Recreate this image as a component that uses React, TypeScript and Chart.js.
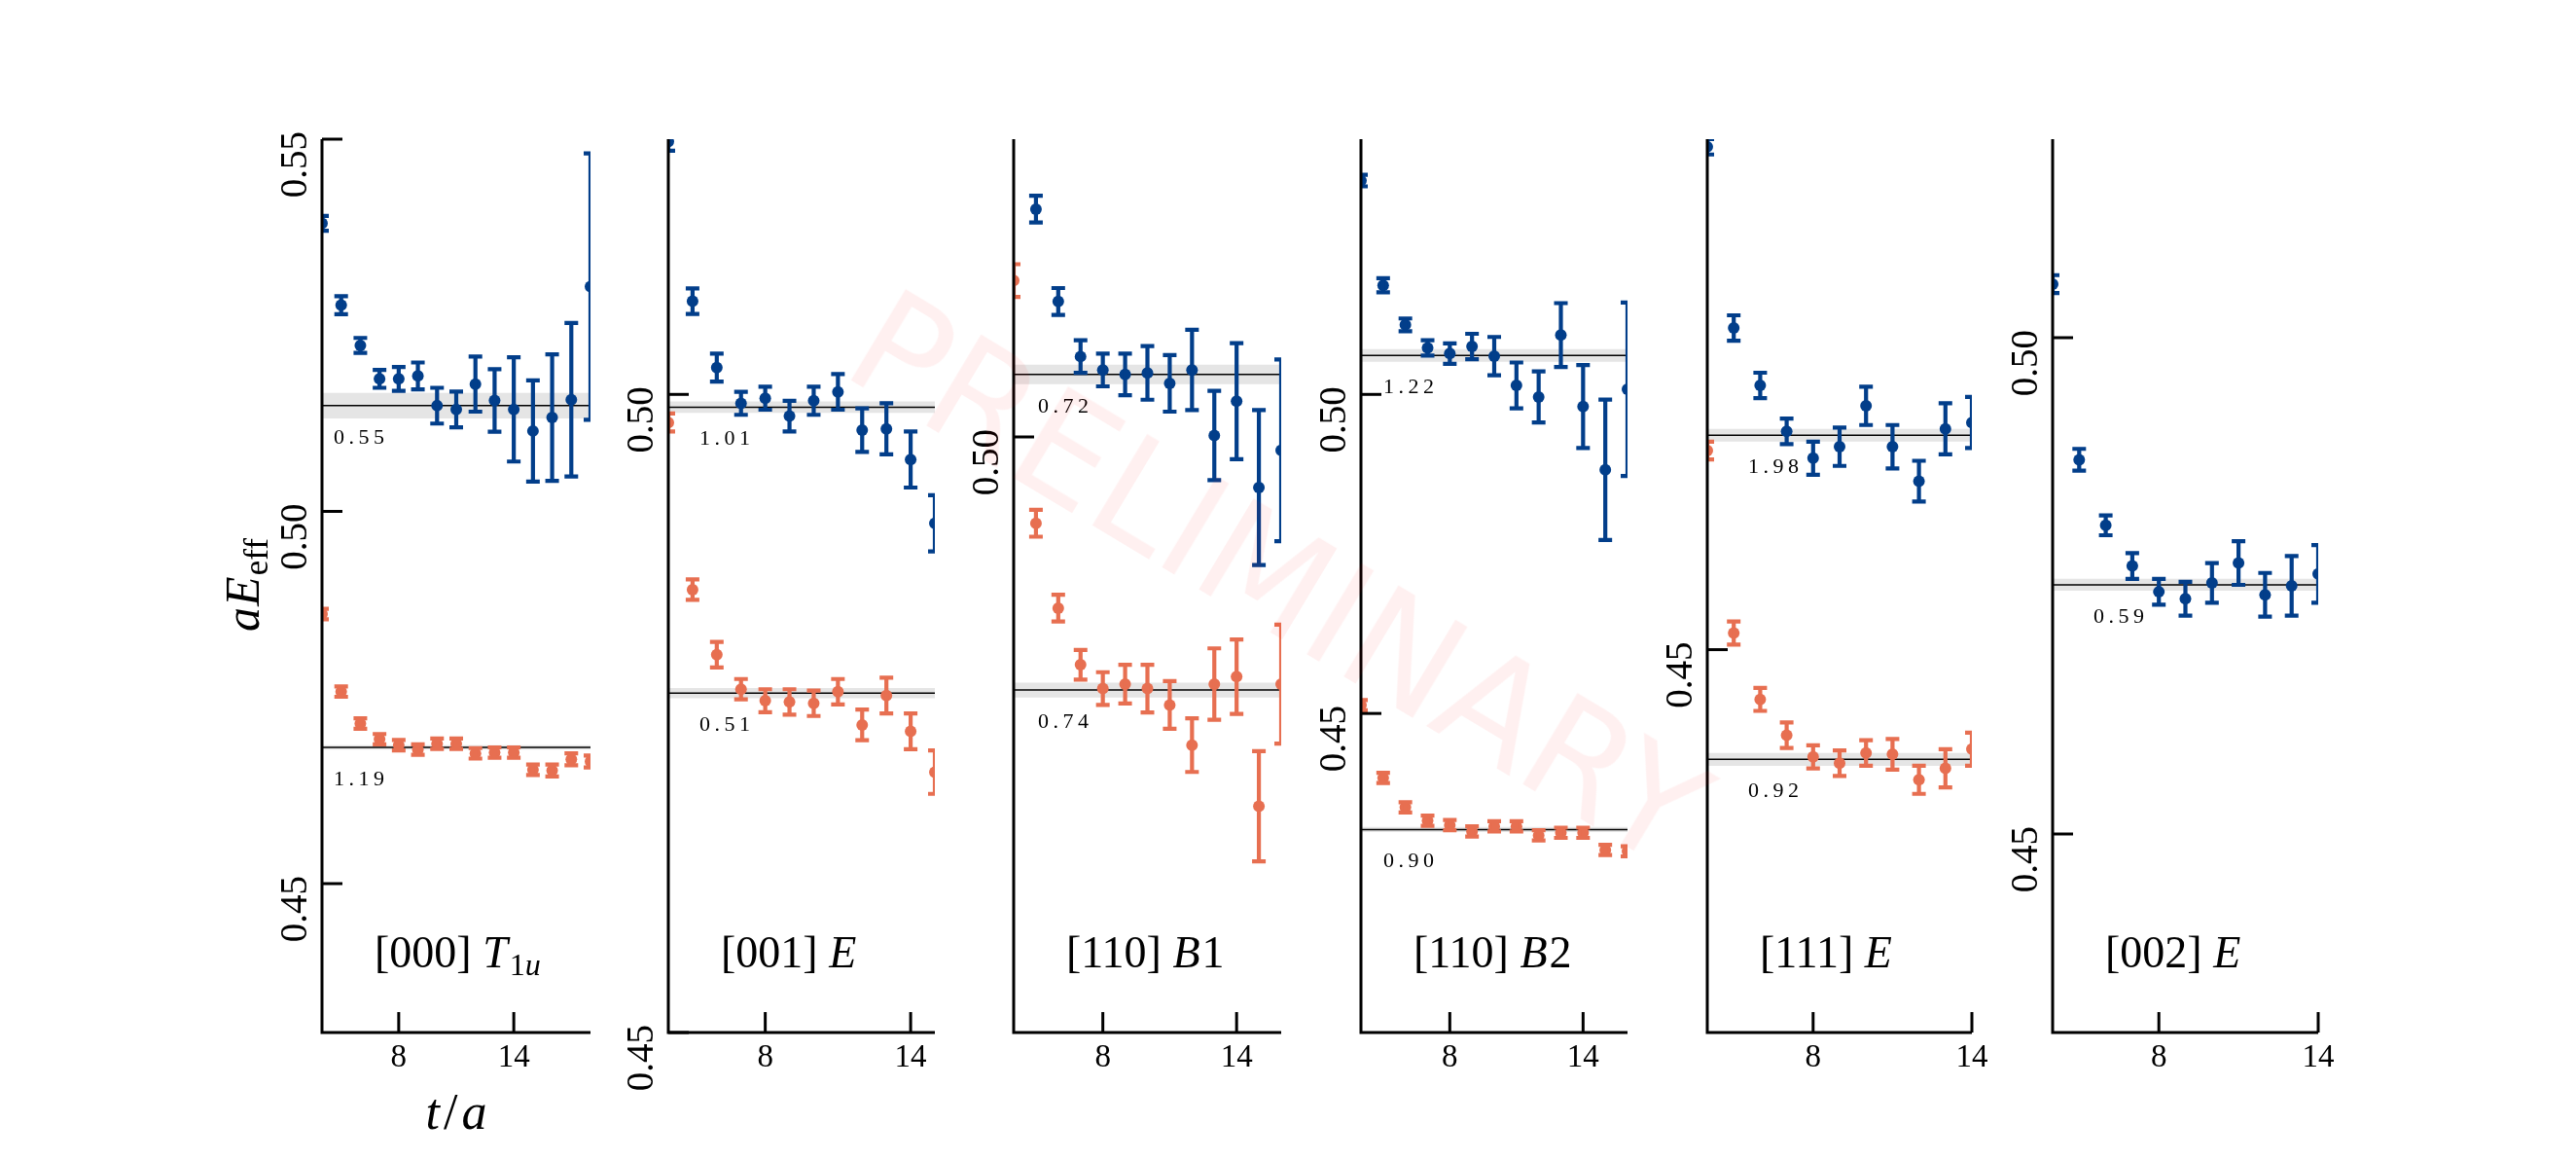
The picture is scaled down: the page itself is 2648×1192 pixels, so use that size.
import React, { useEffect, useRef } from "react";
import { Chart, registerables } from "chart.js";

Chart.register(...registerables);

// ---------------- data ----------------
const xTicks = [8, 14];

// Panel 1: [000] T1u
const p1Times = [4, 5, 6, 7, 8, 9, 10, 11, 12, 13, 14, 15, 16, 17, 18];
const p1Blue = [0.5387, 0.5277, 0.5223, 0.5178, 0.5178, 0.5182, 0.5142, 0.5137, 0.5171, 0.5149, 0.5137, 0.5108, 0.5126, 0.515, 0.5302];
const p1BlueErr = [0.001, 0.0012, 0.001, 0.0012, 0.0016, 0.0018, 0.0024, 0.0024, 0.0037, 0.0042, 0.007, 0.0068, 0.0085, 0.0103, 0.0179];
const p1Orange = [0.4862, 0.4758, 0.4715, 0.4694, 0.4686, 0.468, 0.4688, 0.4688, 0.4675, 0.4676, 0.4676, 0.4653, 0.4652, 0.4667, 0.4664];
const p1OrangeErr = [0.0007, 0.0007, 0.0007, 0.0007, 0.0007, 0.0007, 0.0007, 0.0007, 0.0007, 0.0007, 0.0007, 0.0007, 0.0008, 0.0008, 0.0008];
const p1FitValues = [0.5142, 0.4683];
const p1FitErrs = [0.0017, 0.0003];
const p1FitLabels = ["0.55", "1.19"];
const p1YTicks = [0.45, 0.5, 0.55];
const p1YTickLabels = ["0.45", "0.50", "0.55"];

// Panel 2: [001] E
const p2Times = [4, 5, 6, 7, 8, 9, 10, 11, 12, 13, 14, 15];
const p2Blue = [0.5198, 0.5073, 0.5021, 0.4993, 0.4997, 0.4983, 0.4995, 0.5002, 0.4972, 0.4973, 0.4949, 0.4899];
const p2BlueErr = [0.0007, 0.001, 0.0011, 0.0009, 0.0009, 0.0012, 0.0011, 0.0014, 0.0017, 0.002, 0.0022, 0.0022];
const p2Orange = [0.4978, 0.4847, 0.4796, 0.4769, 0.476, 0.4759, 0.4758, 0.4767, 0.4741, 0.4764, 0.4736, 0.4704];
const p2OrangeErr = [0.0007, 0.0008, 0.001, 0.0008, 0.0009, 0.001, 0.001, 0.001, 0.0012, 0.0014, 0.0014, 0.0017];
const p2FitValues = [0.499, 0.4766];
const p2FitErrs = [0.00045, 0.0004];
const p2FitLabels = ["1.01", "0.51"];
const p2YTicks = [0.45, 0.5];
const p2YTickLabels = ["0.45", "0.50"];

// Panel 3: [110] B1
const p3Times = [4, 5, 6, 7, 8, 9, 10, 11, 12, 13, 14, 15, 16];
const p3Blue = [null, 0.5153, 0.5091, 0.5054, 0.5045, 0.5042, 0.5043, 0.5036, 0.5045, 0.5001, 0.5024, 0.4966, 0.4991];
const p3BlueErr = [0, 0.0009, 0.0009, 0.0011, 0.0011, 0.0014, 0.0018, 0.0019, 0.0027, 0.003, 0.0039, 0.0052, 0.0061];
const p3Orange = [0.5105, 0.4942, 0.4885, 0.4847, 0.4831, 0.4834, 0.4831, 0.482, 0.4793, 0.4834, 0.4839, 0.4752, 0.4834];
const p3OrangeErr = [0.0011, 0.0009, 0.0009, 0.001, 0.0011, 0.0013, 0.0016, 0.0016, 0.0018, 0.0024, 0.0025, 0.0037, 0.004];
const p3FitValues = [0.5042, 0.483];
const p3FitErrs = [0.00065, 0.0005];
const p3FitLabels = ["0.72", "0.74"];
const p3YTicks = [0.5];
const p3YTickLabels = ["0.50"];

// Panel 4: [110] B2
const p4Times = [4, 5, 6, 7, 8, 9, 10, 11, 12, 13, 14, 15, 16];
const p4Blue = [0.5335, 0.5171, 0.5109, 0.5073, 0.5064, 0.5075, 0.506, 0.5014, 0.4996, 0.5093, 0.4981, 0.4882, 0.5008];
const p4BlueErr = [0.0009, 0.0011, 0.001, 0.0012, 0.0016, 0.002, 0.003, 0.0036, 0.004, 0.005, 0.0065, 0.011, 0.0136];
const p4Orange = [0.4513, 0.4399, 0.4353, 0.4332, 0.4325, 0.4315, 0.4323, 0.4323, 0.4309, 0.4313, 0.4313, 0.4286, 0.4284];
const p4OrangeErr = [0.0008, 0.0008, 0.0008, 0.0008, 0.0008, 0.0008, 0.0008, 0.0008, 0.0008, 0.0008, 0.0008, 0.0008, 0.0008];
const p4FitValues = [0.5061, 0.4318];
const p4FitErrs = [0.001, 0.0004];
const p4FitLabels = ["1.22", "0.90"];
const p4YTicks = [0.45, 0.5];
const p4YTickLabels = ["0.45", "0.50"];

// Panel 5: [111] E
const p5Times = [4, 5, 6, 7, 8, 9, 10, 11, 12, 13, 14];
const p5Blue = [0.4894, 0.4752, 0.4707, 0.4671, 0.465, 0.4659, 0.4691, 0.4659, 0.4632, 0.4673, 0.4678];
const p5BlueErr = [0.0006, 0.001, 0.001, 0.001, 0.0013, 0.0015, 0.0015, 0.0017, 0.0016, 0.002, 0.002];
const p5Orange = [0.4656, 0.4513, 0.4461, 0.4433, 0.4416, 0.4411, 0.4419, 0.4418, 0.4398, 0.4407, 0.4422];
const p5OrangeErr = [0.0007, 0.0009, 0.0009, 0.001, 0.0009, 0.001, 0.001, 0.0012, 0.0011, 0.0015, 0.0013];
const p5FitValues = [0.4668, 0.4414];
const p5FitErrs = [0.0005, 0.0005];
const p5FitLabels = ["1.98", "0.92"];
const p5YTicks = [0.45];
const p5YTickLabels = ["0.45"];

// Panel 6: [002] E
const p6Times = [4, 5, 6, 7, 8, 9, 10, 11, 12, 13, 14];
const p6Blue = [0.5054, 0.4877, 0.4811, 0.477, 0.4744, 0.4737, 0.4753, 0.4773, 0.4741, 0.475, 0.4762];
const p6BlueErr = [0.0009, 0.0011, 0.001, 0.0013, 0.0013, 0.0017, 0.002, 0.0022, 0.0022, 0.003, 0.0029];
const p6FitValues = [0.4751];
const p6FitErrs = [0.0006];
const p6FitLabels = ["0.59"];
const p6YTicks = [0.45, 0.5];
const p6YTickLabels = ["0.45", "0.50"];

// ---------------- styles / layout ----------------
const BLUE = "#023e8a";
const ORANGE = "#e76f51";
const SERIF = '"Liberation Serif", "Times New Roman", serif';
const AX_TOP = 143;
const AX_BOTTOM = 1061;
const PAD_LEFT = 120;
const PAD_RIGHT = 30;
const FIG_W = 2648;
const FIG_H = 1192;

type Seg = { t: string; it?: boolean; sub?: boolean; gap?: number };

interface PanelCfg {
  left: number;
  width: number;
  xMin: number;
  xMax: number;
  yMin: number;
  yMax: number;
  yTicks: number[];
  yTickLabels: string[];
  times: number[];
  blue: (number | null)[];
  blueErr: number[];
  orange?: (number | null)[];
  orangeErr?: number[];
  fitValues: number[];
  fitErrs: number[];
  fitLabels: string[];
  labelDx: number;
  title: Seg[];
  first?: boolean;
}

const panels: PanelCfg[] = [
  {
    left: 331, width: 276, xMin: 4, xMax: 18, yMin: 0.43, yMax: 0.55,
    yTicks: p1YTicks, yTickLabels: p1YTickLabels, times: p1Times,
    blue: p1Blue, blueErr: p1BlueErr, orange: p1Orange, orangeErr: p1OrangeErr,
    fitValues: p1FitValues, fitErrs: p1FitErrs, fitLabels: p1FitLabels, labelDx: 12,
    title: [{ t: "[000] " }, { t: "T", it: true, gap: 2 }, { t: "1", sub: true }, { t: "u", sub: true, it: true }],
    first: true,
  },
  {
    left: 687, width: 274, xMin: 4, xMax: 15, yMin: 0.45, yMax: 0.52,
    yTicks: p2YTicks, yTickLabels: p2YTickLabels, times: p2Times,
    blue: p2Blue, blueErr: p2BlueErr, orange: p2Orange, orangeErr: p2OrangeErr,
    fitValues: p2FitValues, fitErrs: p2FitErrs, fitLabels: p2FitLabels, labelDx: 32,
    title: [{ t: "[001] " }, { t: "E", it: true }],
  },
  {
    left: 1042, width: 275, xMin: 4, xMax: 16, yMin: 0.46, yMax: 0.52,
    yTicks: p3YTicks, yTickLabels: p3YTickLabels, times: p3Times,
    blue: p3Blue, blueErr: p3BlueErr, orange: p3Orange, orangeErr: p3OrangeErr,
    fitValues: p3FitValues, fitErrs: p3FitErrs, fitLabels: p3FitLabels, labelDx: 25,
    title: [{ t: "[110] " }, { t: "B", it: true, gap: 2 }, { t: "1" }],
  },
  {
    left: 1399, width: 274, xMin: 4, xMax: 16, yMin: 0.4, yMax: 0.54,
    yTicks: p4YTicks, yTickLabels: p4YTickLabels, times: p4Times,
    blue: p4Blue, blueErr: p4BlueErr, orange: p4Orange, orangeErr: p4OrangeErr,
    fitValues: p4FitValues, fitErrs: p4FitErrs, fitLabels: p4FitLabels, labelDx: 23,
    title: [{ t: "[110] " }, { t: "B", it: true, gap: 2 }, { t: "2" }],
  },
  {
    left: 1755, width: 272, xMin: 4, xMax: 14, yMin: 0.42, yMax: 0.49,
    yTicks: p5YTicks, yTickLabels: p5YTickLabels, times: p5Times,
    blue: p5Blue, blueErr: p5BlueErr, orange: p5Orange, orangeErr: p5OrangeErr,
    fitValues: p5FitValues, fitErrs: p5FitErrs, fitLabels: p5FitLabels, labelDx: 42,
    title: [{ t: "[111] " }, { t: "E", it: true }],
  },
  {
    left: 2110, width: 273, xMin: 4, xMax: 14, yMin: 0.43, yMax: 0.52,
    yTicks: p6YTicks, yTickLabels: p6YTickLabels, times: p6Times,
    blue: p6Blue, blueErr: p6BlueErr,
    fitValues: p6FitValues, fitErrs: p6FitErrs, fitLabels: p6FitLabels, labelDx: 42,
    title: [{ t: "[002] " }, { t: "E", it: true }],
  },
];

// ---------------- text helpers ----------------
function segFont(s: Seg, size: number) {
  const sz = s.sub ? size * 0.7 : size;
  return `${s.it ? "italic " : ""}${sz}px ${SERIF}`;
}

function drawSegs(ctx: CanvasRenderingContext2D, segs: Seg[], x0: number, y0: number, size: number, draw = true) {
  let x = x0;
  for (const s of segs) {
    ctx.font = segFont(s, size);
    const dy = s.sub ? size * 0.17 : 0;
    if (draw) ctx.fillText(s.t, x, y0 + dy);
    x += ctx.measureText(s.t).width + (s.gap || 0);
  }
  return x - x0;
}

function drawSpaced(ctx: CanvasRenderingContext2D, text: string, x0: number, y0: number, spacing: number) {
  let x = x0;
  for (const ch of text) {
    ctx.fillText(ch, x, y0);
    x += ctx.measureText(ch).width + spacing;
  }
}

// ---------------- panel component ----------------
function Panel({ cfg }: { cfg: PanelCfg }) {
  const ref = useRef<HTMLCanvasElement | null>(null);
  const cssLeft = cfg.left - PAD_LEFT;
  const cw = PAD_LEFT + cfg.width + PAD_RIGHT;

  useEffect(() => {
    const canvas = ref.current;
    if (!canvas) return;
    const datasets: any[] = [];
    const errInfo: Record<number, { values: (number | null)[]; errs: number[]; color: string }> = {};

    cfg.fitValues.forEach((v, i) => {
      const e = cfg.fitErrs[i];
      datasets.push({
        type: "line", showLine: true, data: [{ x: cfg.xMin, y: v - e }, { x: cfg.xMax, y: v - e }],
        borderColor: "rgba(0,0,0,0)", borderWidth: 1, pointRadius: 0, fill: false, order: 5, clip: 0,
      });
      datasets.push({
        type: "line", showLine: true, data: [{ x: cfg.xMin, y: v + e }, { x: cfg.xMax, y: v + e }],
        borderColor: "rgba(0,0,0,0)", borderWidth: 1, pointRadius: 0, fill: "-1",
        backgroundColor: "rgba(150,150,150,0.25)", order: 5, clip: 0,
      });
      datasets.push({
        type: "line", showLine: true, data: [{ x: cfg.xMin, y: v }, { x: cfg.xMax, y: v }],
        borderColor: "#000000", borderWidth: 1.5, pointRadius: 0, fill: false, order: 4, clip: 0,
      });
    });

    const addSeries = (vals: (number | null)[], errs: number[], color: string) => {
      const pts: { x: number; y: number }[] = [];
      cfg.times.forEach((t, i) => {
        const v = vals[i];
        if (v != null) pts.push({ x: t, y: v });
      });
      errInfo[datasets.length] = { values: vals, errs, color };
      datasets.push({
        type: "scatter", data: pts, backgroundColor: color, borderColor: color, borderWidth: 0,
        pointRadius: 6, pointHoverRadius: 6, order: 1, clip: 0,
      });
    };
    addSeries(cfg.blue, cfg.blueErr, BLUE);
    if (cfg.orange && cfg.orangeErr) addSeries(cfg.orange, cfg.orangeErr, ORANGE);

    const toC = (px: number) => px - cssLeft;

    const decor = {
      id: "decor",
      afterDatasetDraw(chart: any, args: any) {
        const info = errInfo[args.index];
        if (!info) return;
        const { ctx, chartArea: a, scales } = chart;
        const xs = scales.x, ys = scales.y;
        ctx.save();
        ctx.beginPath();
        ctx.rect(a.left, a.top, a.right - a.left, a.bottom - a.top);
        ctx.clip();
        ctx.strokeStyle = info.color;
        ctx.lineWidth = 4.2;
        ctx.lineCap = "butt";
        cfg.times.forEach((t, i) => {
          const v = info.values[i];
          if (v == null) return;
          const e = info.errs[i];
          const px = xs.getPixelForValue(t);
          const lo = ys.getPixelForValue(v - e);
          const hi = ys.getPixelForValue(v + e);
          ctx.beginPath();
          ctx.moveTo(px, lo);
          ctx.lineTo(px, hi);
          ctx.moveTo(px - 7, lo);
          ctx.lineTo(px + 7, lo);
          ctx.moveTo(px - 7, hi);
          ctx.lineTo(px + 7, hi);
          ctx.stroke();
        });
        ctx.restore();
      },
      afterDraw(chart: any) {
        const { ctx, chartArea: a, scales } = chart;
        const xs = scales.x, ys = scales.y;
        ctx.save();
        ctx.fillStyle = "#000";
        ctx.strokeStyle = "#000";

        // fit value annotations
        ctx.font = `22px ${SERIF}`;
        ctx.textAlign = "left";
        ctx.textBaseline = "alphabetic";
        cfg.fitValues.forEach((v, i) => {
          const py = ys.getPixelForValue(v);
          drawSpaced(ctx, cfg.fitLabels[i], a.left + cfg.labelDx, py + 39, 4.5);
        });

        // title
        ctx.fillStyle = "#000";
        drawSegs(ctx, cfg.title, a.left + 54, 994, 46);

        // spines
        ctx.lineWidth = 3;
        ctx.lineCap = "butt";
        ctx.beginPath();
        ctx.moveTo(a.left, a.top);
        ctx.lineTo(a.left, a.bottom + 1.5);
        ctx.moveTo(a.left - 1.5, a.bottom);
        ctx.lineTo(a.right, a.bottom);
        ctx.stroke();

        // y ticks
        cfg.yTicks.forEach((tv, i) => {
          const py = ys.getPixelForValue(tv);
          ctx.beginPath();
          ctx.moveTo(a.left, py);
          ctx.lineTo(a.left + 21, py);
          ctx.stroke();
          ctx.save();
          ctx.translate(a.left - 16, py + 26);
          ctx.rotate(-Math.PI / 2);
          ctx.font = `39px ${SERIF}`;
          ctx.textAlign = "center";
          ctx.textBaseline = "alphabetic";
          ctx.fillText(cfg.yTickLabels[i], 0, 0);
          ctx.restore();
        });

        // x ticks
        xTicks.forEach((tv) => {
          const px = xs.getPixelForValue(tv);
          ctx.beginPath();
          ctx.moveTo(px, a.bottom);
          ctx.lineTo(px, a.bottom - 21);
          ctx.stroke();
          ctx.font = `33px ${SERIF}`;
          ctx.textAlign = "center";
          ctx.textBaseline = "alphabetic";
          ctx.fillText(String(tv), px, 1096);
        });

        if (cfg.first) {
          // x label
          ctx.textAlign = "left";
          const xl: Seg[] = [{ t: "t", it: true, gap: 4 }, { t: "/", gap: 4 }, { t: "a", it: true }];
          const w = drawSegs(ctx, xl, 0, 0, 52, false);
          drawSegs(ctx, xl, (a.left + a.right) / 2 - w / 2, 1160, 52);
          // y label
          const yl: Seg[] = [{ t: "a", it: true, gap: 1 }, { t: "E", it: true, gap: 1 }, { t: "eff", sub: true }];
          ctx.save();
          ctx.translate(toC(266), 601);
          ctx.rotate(-Math.PI / 2);
          const wy = drawSegs(ctx, yl, 0, 0, 50, false);
          drawSegs(ctx, yl, -wy / 2, 0, 50);
          ctx.restore();
        }
        ctx.restore();
      },
    };

    const chart = new Chart(canvas, {
      type: "scatter",
      data: { datasets },
      options: {
        animation: false,
        responsive: false,
        events: [],
        layout: { padding: { left: PAD_LEFT, right: PAD_RIGHT, top: AX_TOP, bottom: FIG_H - AX_BOTTOM } },
        plugins: { legend: { display: false }, tooltip: { enabled: false } },
        scales: {
          x: { type: "linear", min: cfg.xMin, max: cfg.xMax, display: false },
          y: { type: "linear", min: cfg.yMin, max: cfg.yMax, display: false },
        },
      } as any,
      plugins: [decor as any],
    });
    return () => chart.destroy();
  }, [cfg]);

  return (
    <canvas
      ref={ref}
      width={cw}
      height={FIG_H}
      style={{ position: "absolute", left: cssLeft, top: 0, width: cw, height: FIG_H }}
    />
  );
}

export default function App() {
  return (
    <div
      style={{
        position: "absolute", left: 0, top: 0, width: FIG_W, height: FIG_H,
        background: "#ffffff", overflow: "hidden",
      }}
    >
      {panels.map((p, i) => (
        <Panel key={i} cfg={p} />
      ))}
      <div
        style={{
          position: "absolute", left: 1314, top: 594,
          transform: "translate(-50%, -50%) rotate(31deg)",
          fontFamily: '"DejaVu Sans", sans-serif', fontSize: 150, lineHeight: 1,
          color: "rgba(255, 0, 0, 0.06)", whiteSpace: "nowrap", pointerEvents: "none",
        }}
      >
        PRELIMINARY
      </div>
    </div>
  );
}
